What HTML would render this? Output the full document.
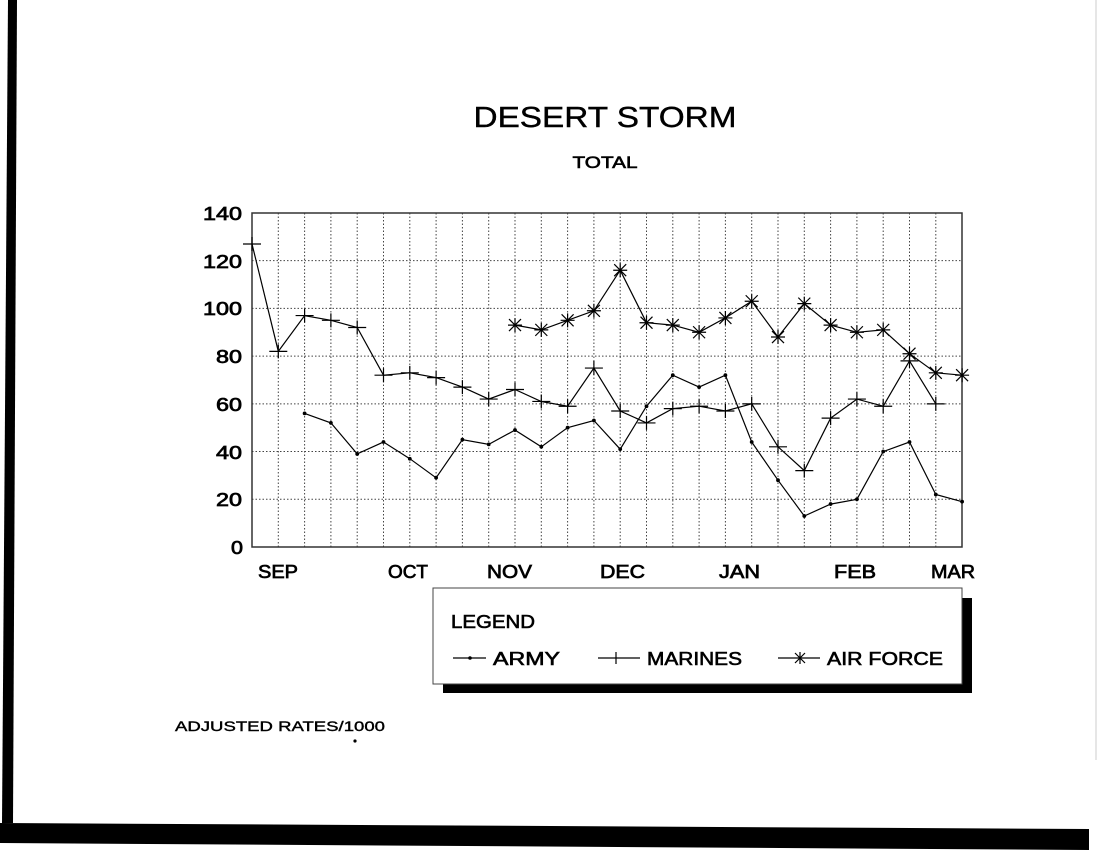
<!DOCTYPE html>
<html><head><meta charset="utf-8"><style>
html,body{margin:0;padding:0;background:#fff;}
svg{display:block;}
text{font-family:"Liberation Sans",Arial,sans-serif;fill:#000;}
</style></head><body>
<svg id="s" width="1097" height="850" viewBox="0 0 1097 850" xmlns="http://www.w3.org/2000/svg">
<rect width="1097" height="850" fill="#fff"/>
<polygon points="8,0 17,0 13,823 2,823" fill="#000"/>
<polygon points="0,823 1089,829 1089,850 0,843" fill="#000"/>
<line x1="1096" y1="0" x2="1096" y2="760" stroke="#ccc" stroke-width="1"/>
<text x="605" y="127" font-size="29" text-anchor="middle" textLength="263" lengthAdjust="spacingAndGlyphs" stroke="#000" stroke-width="0.4">DESERT STORM</text>
<text x="605" y="168" font-size="17" text-anchor="middle" textLength="65" lengthAdjust="spacingAndGlyphs" stroke="#000" stroke-width="0.6">TOTAL</text>
<g id="grid" stroke="#444" stroke-width="1" stroke-dasharray="1.5,2"></g>
<rect x="252" y="213" width="710" height="334" fill="none" stroke="#333" stroke-width="1.5"/>
<g font-size="18" stroke="#000" stroke-width="0.7">
<text x="203" y="220" textLength="39" lengthAdjust="spacingAndGlyphs">140</text>
<text x="203" y="268" textLength="39" lengthAdjust="spacingAndGlyphs">120</text>
<text x="203" y="315" textLength="39" lengthAdjust="spacingAndGlyphs">100</text>
<text x="216" y="363" textLength="26" lengthAdjust="spacingAndGlyphs">80</text>
<text x="216" y="411" textLength="26" lengthAdjust="spacingAndGlyphs">60</text>
<text x="216" y="459" textLength="26" lengthAdjust="spacingAndGlyphs">40</text>
<text x="216" y="506" textLength="26" lengthAdjust="spacingAndGlyphs">20</text>
<text x="231" y="554" textLength="12" lengthAdjust="spacingAndGlyphs">0</text>
</g>
<g font-size="18" stroke="#000" stroke-width="0.7">
<text x="258" y="578" textLength="40" lengthAdjust="spacingAndGlyphs">SEP</text>
<text x="388" y="578" textLength="40" lengthAdjust="spacingAndGlyphs">OCT</text>
<text x="487" y="578" textLength="45" lengthAdjust="spacingAndGlyphs">NOV</text>
<text x="600" y="578" textLength="45" lengthAdjust="spacingAndGlyphs">DEC</text>
<text x="719" y="578" textLength="41" lengthAdjust="spacingAndGlyphs">JAN</text>
<text x="834" y="578" textLength="42" lengthAdjust="spacingAndGlyphs">FEB</text>
<text x="931" y="578" textLength="44" lengthAdjust="spacingAndGlyphs">MAR</text>
</g>
<g id="series" fill="none" stroke="#000" stroke-width="1.2"></g>
<rect x="443" y="598" width="529" height="95" fill="#000"/>
<rect x="433" y="588" width="529" height="96" fill="#fff" stroke="#444" stroke-width="1"/>
<g font-size="18" stroke="#000" stroke-width="0.6">
<text x="451" y="628" textLength="84" lengthAdjust="spacingAndGlyphs">LEGEND</text>
<text x="493" y="665" textLength="67" lengthAdjust="spacingAndGlyphs">ARMY</text>
<text x="647" y="665" textLength="95" lengthAdjust="spacingAndGlyphs">MARINES</text>
<text x="827" y="665" textLength="116" lengthAdjust="spacingAndGlyphs">AIR FORCE</text>
</g>
<g stroke="#000" stroke-width="1.2" fill="none">
<line x1="453" y1="658" x2="486" y2="658"/><circle cx="470" cy="658" r="1.2" fill="#000"/>
<line x1="598" y1="658" x2="640" y2="658"/><line x1="616" y1="652" x2="616" y2="664"/>
<line x1="778" y1="658" x2="820" y2="658"/>
<path d="M800 652V664M795 653L805 663M805 653L795 663"/>
</g>
<text x="175" y="731" font-size="14" stroke="#000" stroke-width="0.4" textLength="210" lengthAdjust="spacingAndGlyphs">ADJUSTED RATES/1000</text>
<circle cx="355" cy="741" r="1.6" fill="#000"/>
</svg>
<script>
var NS="http://www.w3.org/2000/svg";
function X(i){return 252+26.3*i;}
function Y(v){return 547-2.386*v;}
var g=document.getElementById("grid"),s=document.getElementById("series");
function el(n,a,p){var e=document.createElementNS(NS,n);for(var k in a)e.setAttribute(k,a[k]);p.appendChild(e);return e;}
for(var i=1;i<27;i++)el("line",{x1:X(i),y1:213,x2:X(i),y2:547},g);
for(var v=20;v<140;v+=20)el("line",{x1:252,y1:Y(v),x2:962,y2:Y(v)},g);
var marines=[127,82,97,95,92,72,73,71,67,62,66,61,59,75,57,52,58,59,57,60,42,32,54,62,59,78,60];
var army=[null,null,56,52,39,44,37,29,45,43,49,42,50,53,41,59,72,67,72,44,28,13,18,20,40,44,22,19];
var af=[null,null,null,null,null,null,null,null,null,null,93,91,95,99,116,94,93,90,96,103,88,102,93,90,91,81,73,72];
function line(d,m){var pts=[];for(var i=0;i<d.length;i++)if(d[i]!=null)pts.push(X(i).toFixed(1)+","+Y(d[i]).toFixed(1));
el("polyline",{points:pts.join(" ")},s);
for(var i=0;i<d.length;i++)if(d[i]!=null){var x=X(i),y=Y(d[i]);
if(m==0)el("circle",{cx:x,cy:y,r:1.3,fill:"#000"},s);
else if(m==1)el("path",{d:"M"+(x-9)+" "+y+"H"+(x+9)+"M"+x+" "+(y-7)+"V"+(y+7)},s);
else el("path",{d:"M"+x+" "+(y-7)+"V"+(y+7)+"M"+(x-6)+" "+(y-6)+"L"+(x+6)+" "+(y+6)+"M"+(x+6)+" "+(y-6)+"L"+(x-6)+" "+(y+6)+"M"+(x-7)+" "+y+"H"+(x+7)},s);}}
line(army,0);line(marines,1);line(af,2);
</script>
</body></html>
